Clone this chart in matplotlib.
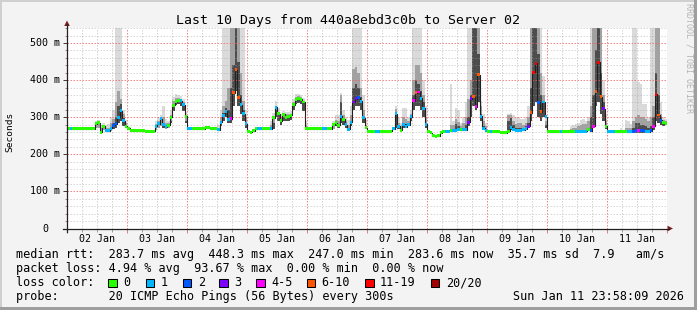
import numpy as np
import matplotlib
matplotlib.use('Agg')
import matplotlib.pyplot as plt
from matplotlib.patches import Rectangle, Polygon
from matplotlib.lines import Line2D
from matplotlib.transforms import blended_transform_factory

# ---------------- data (hourly, 10 days from 02 Jan 00:00) ----------------
day_labels = ['02 Jan', '03 Jan', '04 Jan', '05 Jan', '06 Jan',
              '07 Jan', '08 Jan', '09 Jan', '10 Jan', '11 Jan']

median_ms = [
    269,269,269,269,269,269,269,269,269,269,269,283, 285,260,276,264,264,270,278,282,300,318,290,276,
    270,265,264,263,263,263,263,262,262,262,262,275, 283,296,280,274,278,300,332,343,346,344,334,303,
    269,269,269,269,269,269,269,271,271,269,269,269, 266,287,305,316,294,296,366,428,352,334,310,282,
    262,259,264,269,269,269,269,269,269,269,298,327, 310,291,308,300,301,305,334,348,350,349,341,269,
    269,269,269,269,269,269,269,269,269,269,280,285, 278,303,294,280,267,287,341,350,352,343,298,272,
    262,261,261,261,261,261,261,261,261,262,269,309, 276,265,281,274,280,301,344,366,368,351,324,281,
    261,258,250,249,250,258,262,262,262,263,264,265, 268,266,266,266,287,350,355,328,415,303,270,263,
    261,261,261,261,261,260,258,258,262,273,266,265, 265,265,266,269,276,312,421,445,340,315,341,301,
    261,261,261,261,261,261,261,261,261,261,261,262, 262,262,262,262,266,264,276,370,448,355,323,276,
    261,261,261,261,261,261,261,261,261,261,262,265, 265,265,264,261,261,264,275,362,306,292,285,283,
]

# loss class index: 0:'0' 1:'1' 2:'2' 3:'3' 4:'4-5' 5:'6-10' 6:'11-19' 7:'20/20'
loss_class = [
    0,1,0,0,0,0,0,0,0,0,0,0, 0,0,0,1,1,1,2,2,1,1,1,0,
    0,0,0,0,0,0,0,0,0,0,0,1, 1,1,1,1,0,0,0,0,0,1,1,0,
    1,1,0,0,0,0,0,0,0,0,0,0, 1,1,1,1,1,4,5,5,5,1,1,1,
    0,0,0,0,1,1,0,0,0,1,0,1, 0,0,0,0,0,0,0,0,0,0,0,0,
    0,0,0,0,0,0,1,1,0,0,0,0, 0,1,0,1,1,1,3,3,2,1,1,0,
    0,0,0,1,1,0,0,0,0,0,1,1, 1,0,1,1,1,1,4,5,4,1,1,1,
    0,0,0,0,0,0,0,1,1,0,1,1, 1,0,1,1,3,3,5,4,5,1,1,1,
    0,1,0,0,0,0,0,0,0,1,1,1, 1,1,1,1,3,5,6,6,2,5,1,1,
    0,0,0,0,0,1,0,0,0,0,0,1, 1,1,1,1,0,2,4,5,6,5,3,0,
    1,1,1,0,0,0,0,0,1,1,2,2, 4,2,2,1,1,2,4,6,5,2,0,0,
]

loss_labels = ['0', '1', '2', '3', '4-5', '6-10', '11-19', '20/20']
loss_colors = ['#26ff00', '#00b8ff', '#0059ff', '#7e00ff',
               '#ff00ff', '#ff5500', '#ff0000', '#a00000']

# smoke (spread of the 20 pings) for hours where it is visible
smoke_hour = [11,12,13,14,15,16,17,18,19,20,21,22,23,
              35,36,37,38,39,40,41,42,43,44,45,46,47,
              60,61,62,63,64,65,66,67,68,69,70,71,
              81,82,83,84,85,86,87,88,89,90,91,92,93,94,95,
              106,107,108,109,110,111,112,113,114,115,116,117,118,119,
              131,132,133,134,135,136,137,138,139,140,141,142,143,
              153,154,155,156,157,158,159,160,161,162,163,164,165,166,167,
              176,177,178,179,180,181,182,183,184,185,186,187,188,189,190,191,
              201,202,203,204,205,206,207,208,209,210,211,212,213,214,215,
              221,223,224,225,226,227,228,229,230,231,232,233,234,235,236,237,238,239]
smoke_low = [270,272,258,266,260,260,264,268,270,285,290,275,270,
             266,270,275,270,268,270,285,318,333,335,330,318,285,
             262,275,290,300,285,285,330,370,330,310,290,270,
             265,268,300,290,280,290,290,290,292,320,335,337,335,318,269,
             268,275,270,285,280,270,262,275,320,330,330,320,285,268,
             270,268,262,270,270,275,290,320,330,330,320,300,270,
             265,262,265,265,263,265,265,275,300,330,320,340,290,265,262,
             262,265,265,265,265,265,265,268,270,290,330,340,300,290,300,270,
             260,260,260,260,260,260,260,265,265,280,330,340,310,290,268,
             260,260,260,258,258,258,258,258,258,258,258,260,265,290,285,280,275,278]
smoke_light = [290,292,278,285,280,282,300,320,540,540,540,320,292,
               290,300,305,330,295,290,320,355,362,360,358,348,315,
               278,320,540,540,540,540,540,540,540,540,540,320,
               290,312,345,325,310,318,315,315,318,348,362,362,360,352,290,
               290,305,305,365,320,300,292,330,540,540,540,540,360,292,
               330,300,285,325,325,300,320,540,540,540,540,400,330,
               390,290,325,320,285,300,340,540,540,540,540,540,345,310,285,
               310,312,305,300,300,295,295,300,330,540,540,540,540,540,410,300,
               275,278,282,285,292,295,290,300,540,540,540,540,540,400,310,
               270,292,290,282,540,540,395,390,335,335,300,540,540,540,540,340,300,295]
smoke_mid = [285,286,270,278,270,272,285,295,340,370,350,310,285,
             282,290,300,300,285,284,305,345,352,352,350,340,305,
             270,300,330,345,380,540,540,540,540,420,345,300,
             280,300,330,315,300,310,308,308,310,340,355,356,354,345,280,
             282,292,290,360,305,290,280,305,430,435,420,380,320,280,
             322,285,275,300,295,290,310,400,440,440,420,360,300,
             280,278,295,288,275,285,300,350,400,540,540,540,330,290,275,
             305,306,290,282,285,285,280,285,300,540,540,540,540,420,360,290,
             268,270,272,275,278,282,282,290,330,540,540,540,540,360,290,
             265,270,272,272,290,300,305,300,300,295,290,300,330,540,540,310,292,290]
smoke_dark = [270,272,258,266,260,260,264,285,300,330,335,298,270,
              266,270,275,285,268,270,290,335,346,346,343,330,290,
              262,287,312,325,320,380,440,540,450,360,320,285,
              265,285,320,305,290,300,298,298,300,334,348,350,348,338,269,
              268,280,275,340,292,278,265,290,380,390,380,355,300,268,
              312,270,262,285,282,280,300,360,400,390,370,340,285,
              265,262,282,275,263,270,280,300,360,540,540,470,310,275,262,
              290,298,280,272,272,272,270,275,285,380,540,540,470,360,345,280,
              260,260,260,262,265,266,266,270,300,360,480,540,420,340,275,
              260,260,260,262,270,285,285,280,280,275,270,275,300,420,360,300,285,283]

legend_rtt = ('median rtt:  283.7 ms avg  448.3 ms max  247.0 ms min  '
              '283.6 ms now  35.7 ms sd  7.9   am/s')
legend_loss = 'packet loss: 4.94 % avg  93.67 % max  0.00 % min  0.00 % now'
legend_probe = 'probe:       20 ICMP Echo Pings (56 Bytes) every 300s'
stamp = 'Sun Jan 11 23:58:09 2026'
title = 'Last 10 Days from 440a8ebd3c0b to Server 02'

# ---------------- figure ----------------
W, H = 697, 310
MONO = 'DejaVu Sans Mono'
fig = plt.figure(figsize=(W / 100, H / 100), dpi=100, facecolor='#f3f3f3')


def fx(px):
    return px / W


def fy(py):
    return 1 - py / H


# frame shading
fig.add_artist(Rectangle((0, fy(2)), 1, 2 / H, transform=fig.transFigure, color='#cfcfcf', lw=0))
fig.add_artist(Rectangle((0, 0), 2 / W, 1, transform=fig.transFigure, color='#cfcfcf', lw=0))
fig.add_artist(Rectangle((0, 0), 1, 3 / H, transform=fig.transFigure, color='#9e9e9e', lw=0))
fig.add_artist(Rectangle((fx(694), 0), 3 / W, 1, transform=fig.transFigure, color='#9e9e9e', lw=0))

X0, X1, Y0, Y1 = 67, 667, 228.5, 28.2
ax = fig.add_axes([fx(X0), fy(Y0), (X1 - X0) / W, (Y0 - Y1) / H])
ax.set_facecolor('white')
ax.set_xlim(0, 240)
ax.set_ylim(0, 540)
for s in ax.spines.values():
    s.set_visible(False)

med = np.array(median_ms, dtype=float)
loss = np.array(loss_class)
hours = np.arange(len(med))

# smoke layers
sh = np.array(smoke_hour)
slo = np.array(smoke_low, dtype=float)
for top, col in ((smoke_light, '#dadada'), (smoke_mid, '#a2a2a2'), (smoke_dark, '#4d4d4d')):
    t = np.array(top, dtype=float)
    ax.bar(sh, t - slo, bottom=slo, width=1, align='edge', color=col, lw=0, zorder=2)

# grid
gkw = dict(lw=0.72, ls=(0, (1.5, 1.5)), zorder=3)
for h in range(6, 240, 6):
    if h % 24:
        ax.axvline(h, color='#a0a0a0', alpha=0.45, **gkw)
for v in range(20, 541, 20):
    if v % 100:
        ax.axhline(v, color='#a0a0a0', alpha=0.4, **gkw)
for h in range(24, 240, 24):
    ax.axvline(h, color='#f06060', alpha=0.75, **gkw)
for v in range(100, 501, 100):
    ax.axhline(v, color='#f06060', alpha=0.75, **gkw)

# median line + loss-coloured marks
ax.step(np.arange(len(med) + 1), np.append(med, med[-1]), where='post',
        color='#202020', lw=0.8, zorder=4)
sw = 4.0
ax.bar(hours, 2 * sw, bottom=med - sw, width=1, align='edge',
       color=[loss_colors[c] for c in loss], lw=0, zorder=5)

# ticks
ax.set_xticks(range(0, 241, 24))
ax.set_xticklabels([])
ax.set_xticks(range(0, 241, 6), minor=True)
ax.tick_params(axis='x', which='major', length=3, width=0.72, color='#e08080', direction='out')
ax.tick_params(axis='x', which='minor', length=2, width=0.72, color='#a0a0a0', direction='out')
ax.set_yticks(range(0, 501, 100))
ax.set_yticklabels([])
ax.set_yticks(range(0, 541, 20), minor=True)
ax.tick_params(axis='y', which='major', length=3, width=0.72, color='#404040', direction='out')
ax.tick_params(axis='y', which='minor', length=1.5, width=0.72, color='#909090', direction='out')

# tick labels
tx = blended_transform_factory(ax.transData, fig.transFigure)
for i, lab in enumerate(day_labels):
    ax.text(12 + 24 * i, fy(241.7), lab, transform=tx, ha='center', va='baseline',
            family=MONO, fontsize=7.2)
ty = blended_transform_factory(fig.transFigure, ax.transData)
for v in range(0, 501, 100):
    lab = '0' if v == 0 else f'{v} m'
    ax.text(fx(60 if v else 48), v, lab, transform=ty, ha='right', va='center',
            family=MONO, fontsize=7.2)

# axis lines and arrows
fig.add_artist(Line2D([fx(X0), fx(X0)], [fy(231.5), fy(24)], transform=fig.transFigure,
                      color='#2a1f1f', lw=0.9))
fig.add_artist(Line2D([fx(63), fx(669)], [fy(Y0), fy(Y0)], transform=fig.transFigure,
                      color='#1f1f1f', lw=0.9))
fig.add_artist(Polygon([(fx(X0 - 2.8), fy(26)), (fx(X0 + 2.8), fy(26)), (fx(X0), fy(20.5))],
                       closed=True, transform=fig.transFigure, color='#7f1f1f', lw=0))
fig.add_artist(Polygon([(fx(667.5), fy(Y0 - 2.8)), (fx(667.5), fy(Y0 + 2.8)), (fx(673), fy(Y0))],
                       closed=True, transform=fig.transFigure, color='#7f1f1f', lw=0))

# texts
fig.text(fx(347.5), fy(24), title, ha='center', va='baseline', family=MONO, fontsize=9.5)
fig.text(fx(10), fy(132), 'Seconds', rotation=90, ha='center', va='center',
         family=MONO, fontsize=6.8)
fig.text(fx(688.5), fy(3), 'RRDTOOL / TOBI OETIKER', rotation=270, ha='center', va='top',
         family=MONO, fontsize=6, color='#b4b4b4')

fig.text(fx(16), fy(258.3), legend_rtt, ha='left', va='baseline', family=MONO, fontsize=8.5)
fig.text(fx(16), fy(272.1), legend_loss, ha='left', va='baseline', family=MONO, fontsize=8.5)
fig.text(fx(16), fy(286.0), 'loss color:', ha='left', va='baseline', family=MONO, fontsize=8.5)
fig.text(fx(16), fy(299.8), legend_probe, ha='left', va='baseline', family=MONO, fontsize=8.5)
fig.text(fx(513.3), fy(299.8), stamp, ha='left', va='baseline', family=MONO, fontsize=8.5)

box_x = [108, 145.7, 182.7, 219.3, 256, 306.7, 365, 430.7]
for bx, lab, col in zip(box_x, loss_labels, loss_colors):
    fig.add_artist(Rectangle((fx(bx), fy(287)), 8.5 / W, 8.5 / H, transform=fig.transFigure,
                             facecolor=col, edgecolor='black', lw=0.75))
    fig.text(fx(bx + 15), fy(286.0), lab, ha='left', va='baseline', family=MONO, fontsize=8.5)

fig.savefig('out.png', dpi=100, facecolor=fig.get_facecolor())
